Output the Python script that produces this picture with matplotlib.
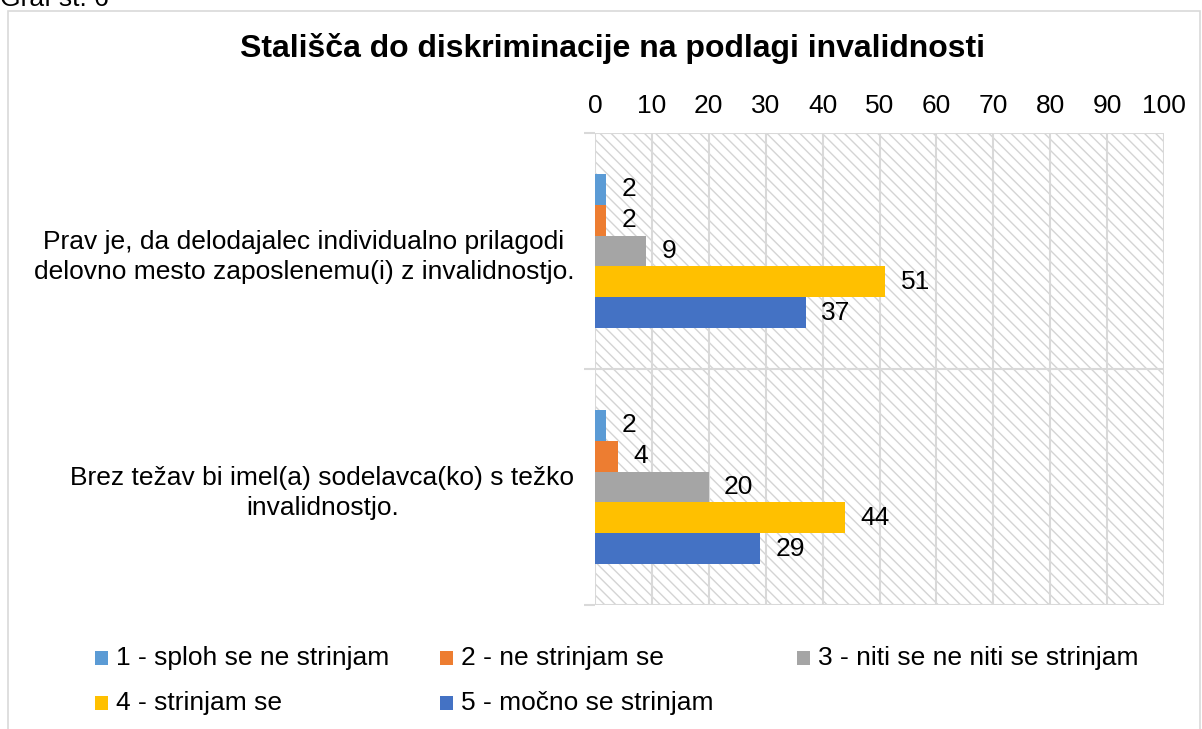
import matplotlib
matplotlib.use("Agg")
import matplotlib.pyplot as plt
from matplotlib.patches import Rectangle
import numpy as np

plt.rcParams['font.family'] = ['Liberation Sans', 'DejaVu Sans']
plt.rcParams['hatch.linewidth'] = 1.0

title = "Stališča do diskriminacije na podlagi invalidnosti"
categories = [
    "Prav je, da delodajalec individualno prilagodi\ndelovno mesto zaposlenemu(i) z invalidnostjo.",
    "Brez težav bi imel(a) sodelavca(ko) s težko\ninvalidnostjo.",
]
series_names = [
    "1 - sploh se ne strinjam",
    "2 - ne strinjam se",
    "3 - niti se ne niti se strinjam",
    "4 - strinjam se",
    "5 - močno se strinjam",
]
values = [
    [2, 2],
    [2, 4],
    [9, 20],
    [51, 44],
    [37, 29],
]
colors = ["#5B9BD5", "#ED7D31", "#A5A5A5", "#FFC000", "#4472C4"]
xticks = [0, 10, 20, 30, 40, 50, 60, 70, 80, 90, 100]

W, H = 1202, 729
FS = 19

fig = plt.figure(figsize=(W / 100, H / 100), dpi=100)
# chart border
fig.patches.append(Rectangle((8 / W, -0.05), 1192 / W, 1 - 11 / H + 0.05,
                             transform=fig.transFigure, fill=False,
                             edgecolor="#d9d9d9", linewidth=1.2))
fig.text(0 / W, 1 + 1 / H, "Graf št. 6", fontsize=FS, ha='left', va='center')

ax = fig.add_axes([595 / W, 1 - 605 / H, (1164 - 595) / W, (605 - 133) / H])
ax.set_xlim(0, 100)
ax.set_ylim(1, -1)  # categories at -0.5 and 0.5 (top to bottom)

# hatched background
bg = Rectangle((0, 0), 1, 1, transform=ax.transAxes, facecolor="white",
               edgecolor="#d4d4d4", hatch="\\\\\\", linewidth=0, zorder=0)
ax.add_patch(bg)
ax.set_facecolor("white")

nser = len(series_names)
cat_pos = np.array([-0.5, 0.5])
bar_h = 0.131
for i in range(nser):
    offs = (i - (nser - 1) / 2) * bar_h
    y = cat_pos + offs
    ax.barh(y, values[i], height=bar_h, color=colors[i], zorder=3,
            label=series_names[i])
    for yy, v in zip(y, values[i]):
        ax.annotate(str(v), (v, yy), xytext=(11, 0), textcoords='offset points',
                    va='center', ha='left', fontsize=FS, zorder=4)

# grid
for t in xticks:
    ax.axvline(t, color="#d9d9d9", linewidth=1.5, zorder=1)
for yb in [-1, 0, 1]:
    ax.axhline(yb, color="#d9d9d9", linewidth=1.5, zorder=1)

ax.xaxis.tick_top()
ax.set_xticks(xticks)
ax.set_xticklabels([str(t) for t in xticks], fontsize=FS)
ax.tick_params(axis='x', length=0, pad=11)

ax.set_yticks(cat_pos)
ax.set_yticklabels(categories, fontsize=FS, multialignment='center',
                   linespacing=1.35)
ax.tick_params(axis='y', length=0, pad=15)
ax.set_yticks([-1, 0, 1], minor=True)
ax.tick_params(axis='y', which='minor', length=8, color="#d9d9d9", width=1.5)

for s in ax.spines.values():
    s.set_visible(False)

fig.text(612 / W, 1 - 48 / H, title, fontsize=23, fontweight='bold',
         ha='center', va='center')

# legend (row-wise, Excel style)
leg_x = [95, 440, 797, 95, 440]
leg_y = [658, 658, 658, 703, 703]
for name, c, lx, ly in zip(series_names, colors, leg_x, leg_y):
    fig.patches.append(Rectangle((lx / W, 1 - (ly + 7) / H), 13 / W, 14 / H,
                                 transform=fig.transFigure, facecolor=c,
                                 edgecolor='none'))
    fig.text((lx + 21) / W, 1 - ly / H, name, fontsize=FS, ha='left',
             va='center')

fig.savefig("out.png", dpi=100)
